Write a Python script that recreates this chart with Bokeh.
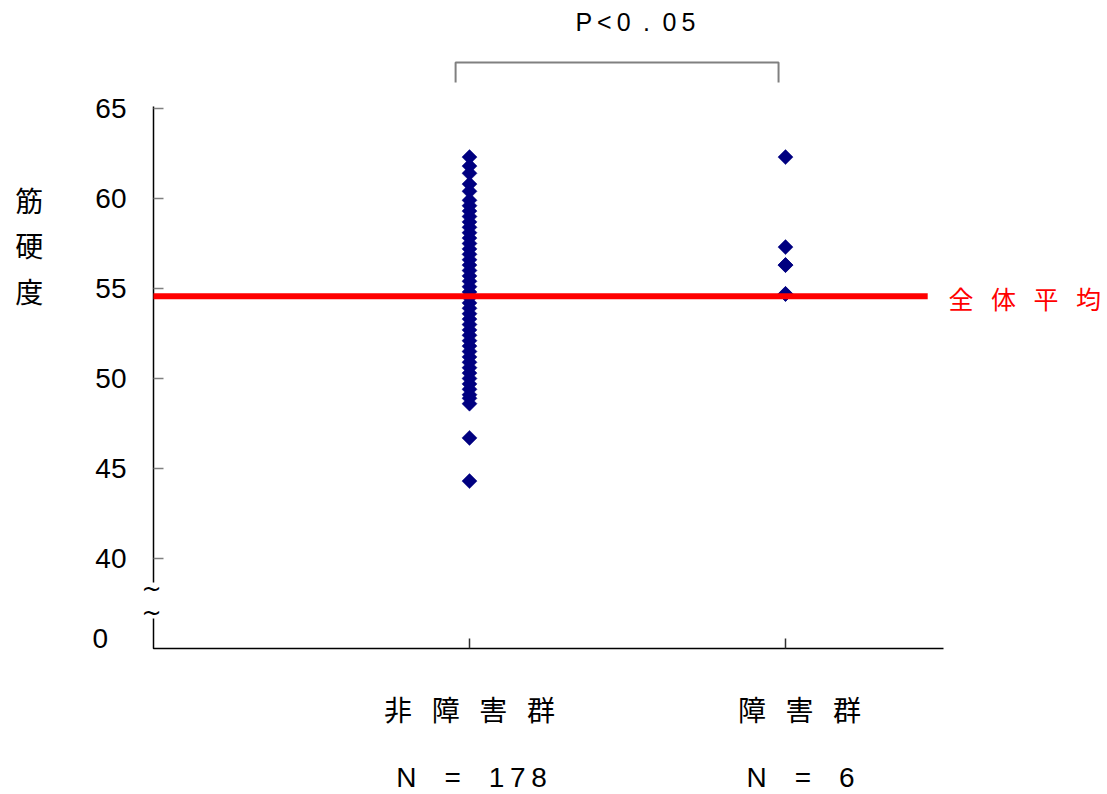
import math
from bokeh.plotting import figure
from bokeh.models import FixedTicker, Label, Range1d
from bokeh.embed import file_html
from bokeh.resources import INLINE

# ---------------- data ----------------
groups = ["非障害群", "障害群"]
group_x = [1, 2]
group_n = [178, 6]

# muscle hardness values (many points overlap)
non_disabled = [62.3, 61.8, 61.4, 60.8, 60.4, 59.9, 59.6, 59.3, 59.0, 58.7,
                58.4, 58.1, 57.8, 57.5, 57.2, 56.9, 56.6, 56.3, 56.0, 55.7,
                55.4, 55.1, 54.8, 54.5, 54.2, 53.9, 53.6, 53.3, 53.0, 52.7,
                52.4, 52.1, 51.8, 51.5, 51.2, 50.9, 50.6, 50.3, 50.0, 49.7,
                49.4, 49.1, 48.9, 48.6, 46.7, 44.3]
disabled = [62.3, 57.3, 56.3, 56.3, 54.7, 54.7]

overall_mean = 54.57
y_ticks = [40, 45, 50, 55, 60, 65]
y_break_label = "0"
y_title = "筋硬度"
p_text = "P<0.05"
mean_text = "全体平均"

EN = "\u2002"
THIN = "\u2009"

# ---------------- layout ----------------
W, H = 1105, 792
PX_X = 316.0      # pixels per x unit
PX_Y = 18.0       # pixels per y unit
X0_PX = 153.0     # pixel column of x = 0
Y40_PX = 558.0    # pixel row of y = 40

x_range = Range1d(-X0_PX / PX_X, (W - X0_PX) / PX_X)
y_range = Range1d(40 + (Y40_PX - H) / PX_Y, 40 + Y40_PX / PX_Y)

p = figure(width=W, height=H, x_range=x_range, y_range=y_range,
           output_backend="svg", toolbar_location=None,
           min_border=0, min_border_left=0, min_border_right=0,
           min_border_top=0, min_border_bottom=0)
p.outline_line_color = None
p.xgrid.visible = False
p.ygrid.visible = False
p.background_fill_color = "white"
p.border_fill_color = "white"

y_axis_bottom = 35.0
y_axis_top = 65.11
x_axis_end = 2.5

# y axis (placed at x = 0)
ya = p.yaxis[0]
ya.fixed_location = 0
ya.ticker = FixedTicker(ticks=y_ticks)
ya.axis_line_color = None
ya.major_tick_in = 10
ya.major_tick_out = 0
ya.major_tick_line_color = "#808080"
ya.major_tick_line_width = 1.5
ya.minor_tick_line_color = None
ya.major_label_standoff = 27
ya.major_label_text_font = "Liberation Sans"
ya.major_label_text_font_size = "28px"
ya.major_label_text_color = "black"

# x axis (placed at the bottom of the value axis)
xa = p.xaxis[0]
xa.fixed_location = y_axis_bottom
xa.ticker = FixedTicker(ticks=group_x)
xa.major_label_overrides = {
    group_x[0]: (EN + THIN).join(groups[0]),
    group_x[1]: EN + EN + (EN + THIN).join(groups[1]),
}
xa.axis_line_color = None
xa.major_tick_in = 10
xa.major_tick_out = 0
xa.major_tick_line_color = "#303030"
xa.major_tick_line_width = 1.5
xa.minor_tick_line_color = None
xa.major_label_standoff = 40
xa.major_label_text_font = "Noto Sans CJK JP"
xa.major_label_text_font_size = "28px"
xa.major_label_text_color = "black"

# axis lines with break
break_top, break_bottom = 38.67, 36.67
p.line(x=[0, 0], y=[break_top, y_axis_top], line_color="black", line_width=1.5)
p.line(x=[0, 0, x_axis_end], y=[break_bottom, y_axis_bottom, y_axis_bottom],
       line_color="black", line_width=1.5)
for yb in [38.33, 37.0]:
    p.add_layout(Label(x=0, y=yb, x_offset=-2, text="~", text_font="DejaVu Sans",
                       text_font_size="24px", text_align="center", text_baseline="middle",
                       text_color="black"))

# points
for gx, vals in zip(group_x, [non_disabled, disabled]):
    p.scatter(x=[gx] * len(vals), y=vals, marker="square", angle=math.pi / 4,
              size=10.6, fill_color="#000080", line_color="#000080", line_width=0.5)

# overall mean line
p.line(x=[0, 2.45], y=[overall_mean, overall_mean], line_color="#FF0000", line_width=6)
p.add_layout(Label(x=2.516, y=overall_mean, text=(EN + THIN).join(mean_text),
                   text_color="#FF0000", text_font="Noto Sans CJK JP", text_font_size="25px",
                   text_align="left", text_baseline="middle", y_offset=-2))

# N labels
n_offsets = [2, 15]
for gx, n, off in zip(group_x, group_n, n_offsets):
    txt = "N" + "\u2003" + "=" + "\u2003" + THIN.join(str(n))
    p.add_layout(Label(x=gx, y=27.83, x_offset=off, text=txt, text_font="Liberation Sans",
                       text_font_size="28px", text_align="center", text_baseline="middle",
                       text_color="black"))

# y axis title (stacked characters)
p.add_layout(Label(x=-0.393, y=57.39, text="\n".join(y_title), text_font="Noto Sans CJK JP",
                   text_font_size="28px", text_line_height=1.14, text_align="center",
                   text_baseline="middle", text_color="black"))

# "0" label below the axis break
p.add_layout(Label(x=-0.193, y=35.56, text=y_break_label, text_font="Liberation Sans",
                   text_font_size="28px", text_align="left", text_baseline="middle",
                   text_color="black"))

# significance bracket
bx0, bx1 = group_x[0] - 0.044, group_x[1] - 0.022
by_low, by_top = 66.44, 67.56
p.line(x=[bx0, bx0, bx1, bx1], y=[by_low, by_top, by_top, by_low],
       line_color="#808080", line_width=2)

p_disp = "P" + THIN + "<" + THIN + "0" + EN + "." + EN + "0" + THIN + "5"
p.add_layout(Label(x=1.525, y=69.78, text=p_disp,
                   text_font="Liberation Sans", text_font_size="25px", text_align="center",
                   text_baseline="middle", text_color="black"))

open("out.html", "w").write(file_html(p, INLINE))
